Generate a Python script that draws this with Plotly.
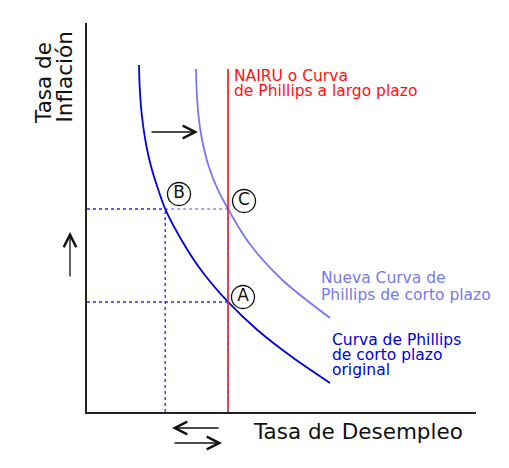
import plotly.graph_objects as go

# ---- data (unemployment x, inflation y, arbitrary 0-100 units) ----
orig_x = [13.37, 13.52, 13.86, 14.40, 15.22, 16.37, 17.92, 20.10, 24.29, 29.31, 36.25, 43.80, 52.70, 62.47]
orig_y = [89.20, 84.06, 78.66, 73.78, 68.64, 63.50, 58.35, 52.19, 44.22, 36.50, 28.28, 21.08, 14.14, 7.46]

new_x = [28.02, 28.17, 28.51, 29.10, 30.08, 31.52, 33.55, 36.25, 41.65, 50.21, 62.47]
new_y = [88.17, 83.03, 77.89, 72.75, 67.61, 62.47, 57.33, 52.19, 43.44, 33.93, 24.16]

nairu_x = 36.25
nairu_top = 88.17

point_labels = ["A", "B", "C"]
point_x = [40.10, 23.65, 40.36]
point_y = [29.56, 56.04, 54.24]

A_x, A_y = 36.25, 28.28
B_x, B_y = 20.10, 52.19
C_x, C_y = 36.25, 52.19

FONT = "DejaVu Sans"
BLUE = "#0000e0"
LBLUE = "#7878f0"
RED = "#ff1010"

fig = go.Figure()

# dotted guide lines
dot = dict(dash="dot", width=1.3)
fig.add_trace(go.Scatter(x=[0, B_x], y=[B_y, B_y], mode="lines", line=dict(color="#2a2ae8", **dot)))
fig.add_trace(go.Scatter(x=[B_x, C_x], y=[C_y, C_y], mode="lines", line=dict(color="#8888f0", **dot)))
fig.add_trace(go.Scatter(x=[0, A_x], y=[A_y, A_y], mode="lines", line=dict(color="#2a2ae8", **dot)))
fig.add_trace(go.Scatter(x=[B_x, B_x], y=[0, B_y], mode="lines", line=dict(color="#2a2ae8", **dot)))

# curves
fig.add_trace(go.Scatter(x=orig_x, y=orig_y, mode="lines",
                         line=dict(color=BLUE, width=1.8, shape="spline", smoothing=0.8)))
fig.add_trace(go.Scatter(x=new_x, y=new_y, mode="lines",
                         line=dict(color=LBLUE, width=1.8, shape="spline", smoothing=0.8)))
# NAIRU
fig.add_trace(go.Scatter(x=[nairu_x, nairu_x], y=[0, nairu_top], mode="lines",
                         line=dict(color=RED, width=1.6)))
fig.add_trace(go.Scatter(x=[A_x, A_x], y=[0, C_y], mode="lines",
                         line=dict(color="#5050ff", dash="dot", width=1.0)))

# circled points
fig.add_trace(go.Scatter(x=point_x, y=point_y, mode="markers+text", text=point_labels,
                         textposition="middle center",
                         textfont=dict(family=FONT, size=17, color="#111"),
                         marker=dict(symbol="circle-open", size=23, color="#111",
                                     line=dict(width=1.3, color="#111"))))

anns = []


def txt(s, x, y, color, size=15.5, anchor="left", angle=0):
    # positions given in axis units (0-100); placed on paper so they are never hidden
    anns.append(dict(text=s, x=x / 100, y=y / 100, xref="paper", yref="paper", showarrow=False,
                     xanchor=anchor, yanchor="middle", textangle=angle,
                     font=dict(family=FONT, size=size, color=color)))


def arrow(tx, ty, hx, hy):
    anns.append(dict(text="", x=hx / 100, y=hy / 100, ax=tx / 100, ay=ty / 100,
                     xref="x domain", yref="y domain", axref="x domain", ayref="y domain",
                     showarrow=True, arrowhead=5,
                     arrowsize=1.9, arrowwidth=1.3, arrowcolor="#111", standoff=0))


txt("Tasa de", -11.05, 84.6, "#111", size=21.5, anchor="center", angle=-90)
txt("Inflación", -5.91, 86.0, "#111", size=21.5, anchor="center", angle=-90)
txt("Tasa de Desempleo", 42.16, -5.01, "#111", size=21.5)

txt("NAIRU o Curva", 37.28, 86.4, RED)
txt("de Phillips a largo plazo", 37.28, 82.4, RED)
txt("Nueva Curva de", 59.64, 34.32, LBLUE)
txt("Phillips de corto plazo", 59.64, 30.08, LBLUE)
txt("Curva de Phillips", 62.47, 18.51, BLUE)
txt("de corto plazo", 62.47, 14.65, BLUE)
txt("original", 62.47, 10.80, BLUE)

arrow(16.20, 71.98, 28.53, 71.98)
arrow(-4.37, 34.45, -4.37, 46.27)
arrow(34.19, -4.11, 21.85, -4.11)
arrow(22.11, -7.97, 34.70, -7.97)

axis_common = dict(showgrid=False, zeroline=False, showticklabels=False, ticks="",
                   showline=True, linecolor="#222", linewidth=2, fixedrange=True)
# the page body has an 8px default margin, so the figure is 8px smaller
fig.update_layout(
    width=501, height=460,
    margin=dict(l=79, r=33, t=15, b=56),
    paper_bgcolor="white", plot_bgcolor="white",
    showlegend=False,
    xaxis=dict(range=[0, 100], **axis_common),
    yaxis=dict(range=[0, 100], **axis_common),
    annotations=anns,
    font=dict(family=FONT),
)

fig.write_html("out.html")
